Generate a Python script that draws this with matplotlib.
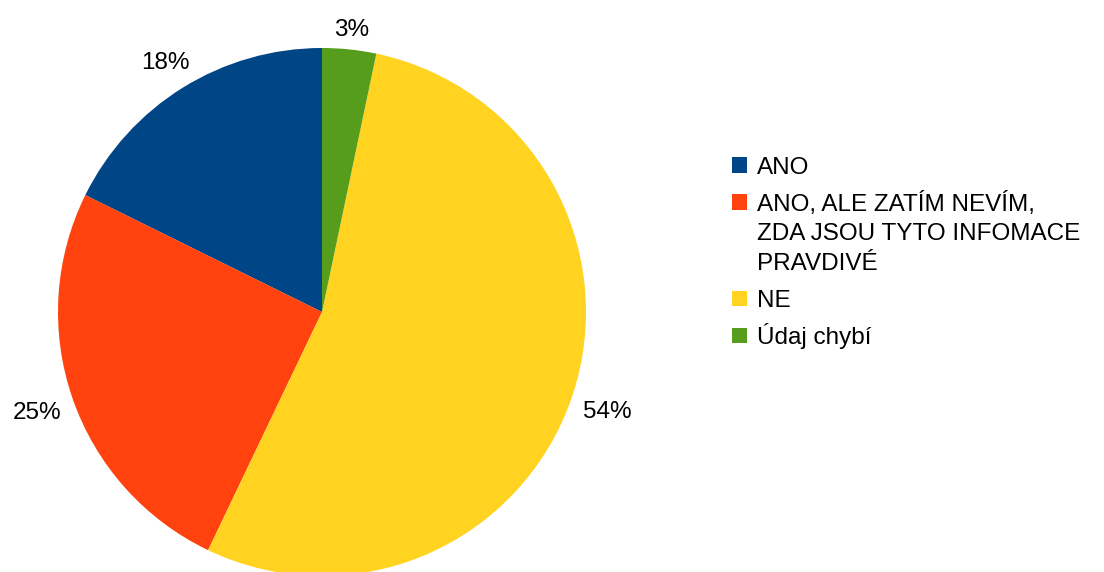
import numpy as np
import matplotlib.pyplot as plt
from matplotlib.patches import Rectangle

plt.rcParams["font.family"] = ["Liberation Sans", "DejaVu Sans"]

labels = [
    "ANO",
    "ANO, ALE ZATÍM NEVÍM,\nZDA JSOU TYTO INFOMACE\nPRAVDIVÉ",
    "NE",
    "Údaj chybí",
]
shares = [17.7, 25.2, 53.8, 3.3]
colors = ["#004586", "#ff420e", "#ffd320", "#579d1c"]

W, H = 1104, 572
FS = 17.5
CAP = 0.716 * FS * 100 / 72  # cap height in pixels

fig = plt.figure(figsize=(W / 100, H / 100), dpi=100)
# pie axes sized in pixels so the disc sits left of the legend
ax = fig.add_axes([58 / W, -4 / H, 528 / W, 528 / H])

wedges, _, autotexts = ax.pie(
    shares,
    colors=colors,
    startangle=90,
    counterclock=True,
    autopct=lambda p: f"{p:.0f}%",
    pctdistance=1.1,
    wedgeprops={"linewidth": 0},
    textprops={"fontsize": FS, "color": "black"},
)
ax.set_xlim(-1, 1)
ax.set_ylim(-1, 1)
ax.set_aspect("equal")
ax.axis("off")

# push each percentage label out so its box keeps a fixed gap from the rim
fig.canvas.draw()
renderer = fig.canvas.get_renderer()
px_per_unit = 264.0
gap = 0.045
hh = CAP / 2 / px_per_unit
for w, t in zip(wedges, autotexts):
    mid = np.deg2rad((w.theta1 + w.theta2) / 2)
    hw = t.get_window_extent(renderer).width / 2 / px_per_unit
    c, s = np.cos(mid), np.sin(mid)
    r = 1 + gap + abs(c) * hw + abs(s) * hh
    t.set_verticalalignment("baseline")
    t.set_position((r * c, r * s - hh))


# legend drawn in pixel coordinates
def fx(x):
    return x / W


def fy(y):
    return 1 - y / H


row_y = 165
line_step = 29.5
pad = 7.5
for lab, col in zip(labels, colors):
    fig.add_artist(
        Rectangle(
            (fx(732), fy(row_y + 7.5)),
            15 / W,
            15 / H,
            transform=fig.transFigure,
            facecolor=col,
            edgecolor="none",
        )
    )
    lines = lab.split("\n")
    for i, line in enumerate(lines):
        fig.text(
            fx(757),
            fy(row_y + i * line_step + CAP / 2),
            line,
            fontsize=FS,
            ha="left",
            va="baseline",
        )
    row_y += len(lines) * line_step + pad

fig.savefig("out.png", dpi=100)
